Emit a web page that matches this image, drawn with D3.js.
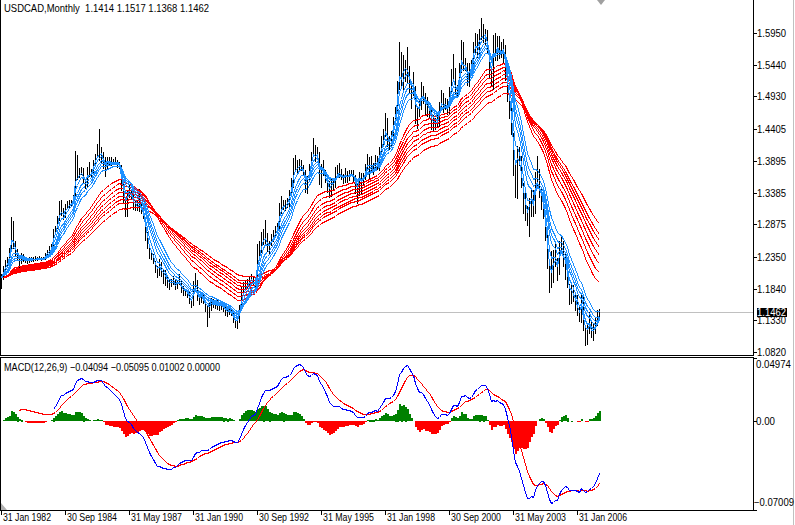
<!DOCTYPE html>
<html>
<head>
<meta charset="utf-8">
<script src="https://cdn.jsdelivr.net/npm/d3@7"></script>
<style>
    html, body { margin: 0; padding: 0; background: #fff; }
    svg { display: block; }
    text { font-family: "Liberation Sans", Arial, sans-serif; font-size: 10px; fill: #000; white-space: pre; }
</style>
</head>
<body>
<svg id="chart" width="795" height="525"></svg>
<script>
    // monthly USDCAD, Jan 1982 .. Dec 2006 (one row per year)
    var closes = [
        1.2020, 1.2175, 1.2270, 1.2285, 1.2470, 1.2880, 1.2580, 1.2400, 1.2320, 1.2290, 1.2380, 1.2330,
        1.2290, 1.2290, 1.2310, 1.2310, 1.2320, 1.2320, 1.2330, 1.2330, 1.2320, 1.2330, 1.2400, 1.2450,
        1.2490, 1.2520, 1.2790, 1.2830, 1.2960, 1.3190, 1.3130, 1.2990, 1.3160, 1.3170, 1.3220, 1.3230,
        1.3330, 1.3880, 1.3660, 1.3720, 1.3730, 1.3600, 1.3510, 1.3750, 1.3680, 1.3740, 1.3890, 1.3970,
        1.4060, 1.4000, 1.4040, 1.3850, 1.3780, 1.3900, 1.3880, 1.3880, 1.3880, 1.3880, 1.3840, 1.3800,
        1.3480, 1.3280, 1.3050, 1.3380, 1.3420, 1.3330, 1.3150, 1.3180, 1.3130, 1.3210, 1.3080, 1.2990,
        1.2680, 1.2530, 1.2340, 1.2360, 1.2280, 1.2150, 1.2080, 1.2250, 1.2060, 1.2090, 1.2010, 1.1930,
        1.1890, 1.1950, 1.1950, 1.1860, 1.1950, 1.1960, 1.1820, 1.1800, 1.1780, 1.1760, 1.1630, 1.1590,
        1.1870, 1.1950, 1.1690, 1.1640, 1.1740, 1.1630, 1.1530, 1.1560, 1.1550, 1.1650, 1.1590, 1.1600,
        1.1560, 1.1560, 1.1570, 1.1520, 1.1480, 1.1450, 1.1490, 1.1440, 1.1320, 1.1280, 1.1330, 1.1560,
        1.1820, 1.1870, 1.1920, 1.1930, 1.2000, 1.2040, 1.1910, 1.1940, 1.2450, 1.2480, 1.2680, 1.2720,
        1.2680, 1.2490, 1.2560, 1.2660, 1.2700, 1.2820, 1.2840, 1.3190, 1.3230, 1.3220, 1.3200, 1.3250,
        1.3420, 1.3520, 1.3880, 1.3850, 1.3800, 1.3850, 1.3820, 1.3720, 1.3430, 1.3600, 1.3800, 1.4020,
        1.4140, 1.3960, 1.4020, 1.3550, 1.3740, 1.3700, 1.3550, 1.3490, 1.3350, 1.3560, 1.3560, 1.3650,
        1.3780, 1.3720, 1.3630, 1.3620, 1.3680, 1.3640, 1.3730, 1.3690, 1.3640, 1.3430, 1.3430, 1.3700,
        1.3560, 1.3660, 1.3790, 1.3950, 1.3820, 1.3820, 1.3830, 1.3920, 1.3820, 1.4100, 1.4210, 1.4300,
        1.4510, 1.4220, 1.4180, 1.4330, 1.4580, 1.4720, 1.5170, 1.5650, 1.5170, 1.5460, 1.5430, 1.5330,
        1.5120, 1.4990, 1.5090, 1.4550, 1.4690, 1.4740, 1.5090, 1.4950, 1.4700, 1.4760, 1.4710, 1.4430,
        1.4480, 1.4490, 1.4510, 1.4830, 1.4980, 1.4770, 1.4830, 1.4710, 1.5030, 1.5230, 1.5360, 1.4990,
        1.5020, 1.5430, 1.5760, 1.5360, 1.5450, 1.5170, 1.5330, 1.5480, 1.5780, 1.5880, 1.5730, 1.5940,
        1.5950, 1.5920, 1.5950, 1.5660, 1.5290, 1.5180, 1.5850, 1.5600, 1.5860, 1.5610, 1.5660, 1.5720,
        1.5260, 1.4870, 1.4700, 1.4330, 1.3700, 1.3510, 1.4040, 1.3860, 1.3500, 1.3190, 1.3010, 1.2960,
        1.3270, 1.3370, 1.3090, 1.3710, 1.3630, 1.3360, 1.3310, 1.3030, 1.2640, 1.2230, 1.1880, 1.2020,
        1.2390, 1.2330, 1.2100, 1.2570, 1.2520, 1.2260, 1.2250, 1.1890, 1.1610, 1.1800, 1.1670, 1.1630,
        1.1440, 1.1380, 1.1670, 1.1200, 1.1050, 1.1150, 1.1320, 1.1100, 1.1160, 1.1240, 1.1420, 1.1462
    ];
    var highs = [
        1.2070, 1.2200, 1.2300, 1.2350, 1.2500, 1.2990, 1.2920, 1.2600, 1.2470, 1.2340, 1.2420, 1.2400,
        1.2340, 1.2330, 1.2340, 1.2350, 1.2340, 1.2370, 1.2350, 1.2360, 1.2340, 1.2350, 1.2420, 1.2460,
        1.2520, 1.2560, 1.2800, 1.2850, 1.3010, 1.3250, 1.3260, 1.3140, 1.3200, 1.3250, 1.3260, 1.3270,
        1.3350, 1.4050, 1.3990, 1.3780, 1.3800, 1.3780, 1.3610, 1.3790, 1.3870, 1.3760, 1.3910, 1.4010,
        1.4170, 1.4400, 1.4120, 1.4040, 1.3960, 1.3960, 1.3950, 1.3950, 1.3920, 1.3950, 1.3900, 1.3880,
        1.3830, 1.3530, 1.3320, 1.3420, 1.3500, 1.3440, 1.3350, 1.3260, 1.3250, 1.3440, 1.3240, 1.3120,
        1.2990, 1.2750, 1.2540, 1.2430, 1.2400, 1.2290, 1.2200, 1.2310, 1.2260, 1.2140, 1.2140, 1.2030,
        1.1990, 1.2000, 1.2050, 1.1980, 1.1980, 1.2070, 1.1980, 1.1880, 1.1840, 1.1810, 1.1780, 1.1640,
        1.1960, 1.2090, 1.1980, 1.1720, 1.1790, 1.1770, 1.1640, 1.1580, 1.1630, 1.1690, 1.1680, 1.1640,
        1.1650, 1.1630, 1.1640, 1.1600, 1.1560, 1.1530, 1.1530, 1.1520, 1.1460, 1.1350, 1.1380, 1.1570,
        1.1860, 1.1940, 1.1970, 1.1990, 1.2040, 1.2070, 1.2050, 1.1980, 1.2560, 1.2600, 1.2750, 1.2800,
        1.2950, 1.2730, 1.2600, 1.2710, 1.2780, 1.2840, 1.2900, 1.3220, 1.3330, 1.3270, 1.3260, 1.3290,
        1.3430, 1.3620, 1.3940, 1.3990, 1.3910, 1.3930, 1.3900, 1.3830, 1.3740, 1.3650, 1.3840, 1.4030,
        1.4265, 1.4150, 1.4120, 1.4030, 1.3850, 1.3900, 1.3740, 1.3600, 1.3570, 1.3620, 1.3620, 1.3800,
        1.3820, 1.3860, 1.3760, 1.3680, 1.3780, 1.3730, 1.3750, 1.3750, 1.3740, 1.3660, 1.3520, 1.3720,
        1.3700, 1.3700, 1.3840, 1.4000, 1.3960, 1.3970, 1.3860, 1.3990, 1.3980, 1.4120, 1.4300, 1.4400,
        1.4660, 1.4580, 1.4290, 1.4370, 1.4600, 1.4760, 1.5180, 1.5800, 1.5650, 1.5600, 1.5510, 1.5730,
        1.5420, 1.5120, 1.5330, 1.5100, 1.4780, 1.4850, 1.5160, 1.5100, 1.4980, 1.4920, 1.4760, 1.4750,
        1.4630, 1.4590, 1.4660, 1.4840, 1.5040, 1.4990, 1.4910, 1.4890, 1.5080, 1.5370, 1.5620, 1.5390,
        1.5120, 1.5470, 1.5840, 1.5800, 1.5540, 1.5470, 1.5460, 1.5510, 1.5800, 1.5950, 1.5930, 1.6020,
        1.6190, 1.6090, 1.6020, 1.6000, 1.5680, 1.5400, 1.5910, 1.5950, 1.5900, 1.5900, 1.5810, 1.5850,
        1.5760, 1.5300, 1.4930, 1.4750, 1.4340, 1.3860, 1.4140, 1.4120, 1.3970, 1.3540, 1.3390, 1.3170,
        1.3300, 1.3460, 1.3420, 1.3710, 1.3970, 1.3770, 1.3450, 1.3300, 1.3020, 1.2730, 1.2260, 1.2450,
        1.2460, 1.2600, 1.2330, 1.2610, 1.2700, 1.2600, 1.2390, 1.2300, 1.1910, 1.1890, 1.1900, 1.1730,
        1.1730, 1.1580, 1.1730, 1.1720, 1.1220, 1.1280, 1.1460, 1.1340, 1.1280, 1.1390, 1.1500, 1.1517
    ];
    var lows = [
        1.1850, 1.2000, 1.2130, 1.2200, 1.2250, 1.2450, 1.2500, 1.2370, 1.2300, 1.2180, 1.2250, 1.2290,
        1.2260, 1.2250, 1.2270, 1.2280, 1.2290, 1.2300, 1.2300, 1.2310, 1.2300, 1.2310, 1.2320, 1.2390,
        1.2420, 1.2440, 1.2510, 1.2750, 1.2820, 1.2950, 1.3030, 1.2960, 1.2990, 1.3130, 1.3140, 1.3170,
        1.3210, 1.3320, 1.3610, 1.3630, 1.3680, 1.3560, 1.3460, 1.3490, 1.3650, 1.3640, 1.3700, 1.3850,
        1.3950, 1.3900, 1.3880, 1.3780, 1.3650, 1.3760, 1.3850, 1.3820, 1.3860, 1.3840, 1.3790, 1.3780,
        1.3430, 1.3230, 1.3010, 1.3000, 1.3310, 1.3290, 1.3120, 1.3110, 1.3100, 1.3080, 1.3050, 1.2980,
        1.2620, 1.2490, 1.2330, 1.2310, 1.2250, 1.2100, 1.2020, 1.2060, 1.2040, 1.1930, 1.1900, 1.1870,
        1.1830, 1.1880, 1.1910, 1.1830, 1.1850, 1.1920, 1.1790, 1.1730, 1.1740, 1.1700, 1.1610, 1.1550,
        1.1580, 1.1830, 1.1660, 1.1590, 1.1630, 1.1600, 1.1480, 1.1240, 1.1390, 1.1500, 1.1540, 1.1530,
        1.1510, 1.1490, 1.1510, 1.1480, 1.1420, 1.1400, 1.1430, 1.1410, 1.1300, 1.1230, 1.1200, 1.1300,
        1.1530, 1.1770, 1.1840, 1.1870, 1.1910, 1.1980, 1.1890, 1.1860, 1.1910, 1.2300, 1.2430, 1.2560,
        1.2570, 1.2450, 1.2390, 1.2540, 1.2600, 1.2680, 1.2750, 1.2800, 1.3060, 1.3120, 1.3100, 1.3150,
        1.3170, 1.3390, 1.3480, 1.3760, 1.3710, 1.3760, 1.3740, 1.3680, 1.3390, 1.3380, 1.3570, 1.3780,
        1.4000, 1.3890, 1.3940, 1.3520, 1.3480, 1.3660, 1.3550, 1.3400, 1.3320, 1.3330, 1.3440, 1.3480,
        1.3640, 1.3640, 1.3600, 1.3530, 1.3560, 1.3560, 1.3580, 1.3660, 1.3570, 1.3380, 1.3220, 1.3340,
        1.3380, 1.3500, 1.3600, 1.3780, 1.3620, 1.3710, 1.3680, 1.3790, 1.3770, 1.3750, 1.4020, 1.4140,
        1.4290, 1.4140, 1.4080, 1.4130, 1.4270, 1.4530, 1.4680, 1.5050, 1.5100, 1.5010, 1.5180, 1.5170,
        1.4980, 1.4750, 1.4950, 1.4510, 1.4420, 1.4610, 1.4720, 1.4830, 1.4640, 1.4610, 1.4600, 1.4410,
        1.4370, 1.4400, 1.4450, 1.4460, 1.4770, 1.4680, 1.4720, 1.4640, 1.4670, 1.4980, 1.5200, 1.4970,
        1.4950, 1.4990, 1.5330, 1.5350, 1.5350, 1.5120, 1.5100, 1.5300, 1.5380, 1.5610, 1.5560, 1.5630,
        1.5860, 1.5800, 1.5750, 1.5630, 1.5240, 1.5110, 1.5050, 1.5510, 1.5510, 1.5550, 1.5560, 1.5470,
        1.5190, 1.4860, 1.4580, 1.4320, 1.3660, 1.3310, 1.3300, 1.3830, 1.3470, 1.3050, 1.2950, 1.2860,
        1.2680, 1.3000, 1.3000, 1.3050, 1.3480, 1.3320, 1.3120, 1.2970, 1.2620, 1.2170, 1.1780, 1.1870,
        1.1940, 1.2200, 1.1980, 1.2080, 1.2440, 1.2200, 1.2000, 1.1860, 1.1590, 1.1610, 1.1640, 1.1490,
        1.1420, 1.1320, 1.1310, 1.1180, 1.0940, 1.0950, 1.1120, 1.1060, 1.1020, 1.1120, 1.1250, 1.1368
    ];
    var lastBar = [1.1414, 1.1517, 1.1368, 1.1462];   // O H L C of the running bar

    var dateTicks = ["31 Jan 1982", "30 Sep 1984", "31 May 1987", "31 Jan 1990", "30 Sep 1992",
                     "31 May 1995", "31 Jan 1998", "30 Sep 2000", "31 May 2003", "31 Jan 2006"];
    var dateTickStep = 32;   // bars between date labels
    var priceTicks = [1.5950, 1.5440, 1.4930, 1.4405, 1.3895, 1.3385, 1.2875, 1.2350, 1.1840, 1.1330, 1.0820];
    var macdTicks = [0.04974, 0.00, -0.07009];
    var macdLabel = [-0.04094, -0.05095, 0.01002, 0.00000];

    var shortPeriods = [3, 5, 8, 10, 12, 15];
    var longPeriods = [30, 35, 40, 45, 50, 55, 60, 70];

    var svg = d3.select("#chart");
    var W = 795, H = 525;
    var plotRight = 753;

    var x = d3.scaleLinear().domain([0, closes.length - 1]).range([1, 1 + 2 * (closes.length - 1)]);
    var y = d3.scaleLinear().domain([1.0820, 1.5950]).range([352, 33]);
    var ym = d3.scaleLinear().domain([-0.07009, 0.04974]).range([510, 358]);

    function ema(src, n) {
        var k = 2 / (n + 1), out = [];
        src.forEach(function (v, i) {
            out.push(i === 0 ? v : v * k + out[i - 1] * (1 - k));
        });
        return out;
    }

    // squeeze a text to a narrower, Tahoma-like width
    function narrow(sel, f) {
        sel.each(function () {
            var w = this.getComputedTextLength();
            d3.select(this).attr("textLength", Math.round(w * f)).attr("lengthAdjust", "spacingAndGlyphs");
        });
    }

    svg.append("rect").attr("width", W).attr("height", H).attr("fill", "#fff");

    var main = svg.append("g").attr("shape-rendering", "crispEdges");

    // current price line
    main.append("line")
        .attr("x1", 1).attr("x2", plotRight)
        .attr("y1", Math.round(y(lastBar[3])) + 0.5).attr("y2", Math.round(y(lastBar[3])) + 0.5)
        .attr("stroke", "#c0c0c0");

    // bars
    main.selectAll("line.bar")
        .data(closes)
        .enter()
        .append("line")
        .attr("class", "bar")
        .attr("x1", function (d, i) { return x(i) + 0.5; })
        .attr("x2", function (d, i) { return x(i) + 0.5; })
        .attr("y1", function (d, i) { return Math.round(y(highs[i])); })
        .attr("y2", function (d, i) { return Math.round(y(lows[i])) + 1; })
        .attr("stroke", "#000");

    var maLine = d3.line()
        .x(function (d, i) { return x(i) + 0.5; })
        .y(function (d) { return Math.round(y(d)) + 0.5; });

    longPeriods.forEach(function (p) {
        main.append("path").attr("d", maLine(ema(closes, p)))
            .attr("fill", "none").attr("stroke", "#ff0000").attr("stroke-width", 1);
    });
    shortPeriods.forEach(function (p) {
        main.append("path").attr("d", maLine(ema(closes, p)))
            .attr("fill", "none").attr("stroke", "#1e90ff").attr("stroke-width", 1);
    });

    // MACD
    var fast = ema(closes, 12), slow = ema(closes, 26);
    var macd = fast.map(function (v, i) { return v - slow[i]; });
    var signal = ema(macd, 9);
    var hist = macd.map(function (v, i) { return v - signal[i]; });

    var sub = svg.append("g").attr("shape-rendering", "crispEdges");
    sub.selectAll("rect.hist")
        .data(hist)
        .enter()
        .append("rect")
        .attr("x", function (d, i) { return x(i) - 0.5; })
        .attr("width", 2)
        .attr("y", function (d) { return Math.round(Math.min(ym(d), ym(0))); })
        .attr("height", function (d) { return Math.round(Math.abs(ym(d) - ym(0))); })
        .attr("fill", function (d) { return d >= 0 ? "#008000" : "#ff0000"; });

    var subLine = d3.line()
        .x(function (d) { return x(d.i) + 0.5; })
        .y(function (d) { return Math.round(ym(d.v)) + 0.5; });
    var sigPts = signal.map(function (v, i) { return { i: i, v: v }; }).filter(function (d) { return d.i >= 9; });
    var macdPts = macd.map(function (v, i) { return { i: i, v: v }; }).filter(function (d) { return d.i >= 26; });
    sub.append("path").attr("d", subLine(sigPts)).attr("fill", "none").attr("stroke", "#ff0000");
    sub.append("path").attr("d", subLine(macdPts)).attr("fill", "none").attr("stroke", "#0000ff");

    // frames
    var frame = svg.append("g").attr("shape-rendering", "crispEdges").attr("fill", "none").attr("stroke", "#000");
    frame.append("path").attr("d", "M0.5,0V355.5H" + (plotRight + 0.5) + "V0");
    frame.append("path").attr("d", "M0.5,357.5H" + (plotRight + 0.5) + "V510.5H0.5Z");
    svg.append("line").attr("x1", 793.5).attr("x2", 793.5).attr("y1", 0).attr("y2", H)
        .attr("stroke", "#c0c0c0").attr("shape-rendering", "crispEdges");

    // price axis
    var pAxis = svg.append("g").attr("shape-rendering", "crispEdges");
    var f4 = d3.format(".4f"), f5 = d3.format(".5f");
    priceTicks.forEach(function (t) {
        var yy = Math.round(y(t));
        pAxis.append("line").attr("x1", plotRight + 1).attr("x2", plotRight + 4)
            .attr("y1", yy + 0.5).attr("y2", yy + 0.5).attr("stroke", "#000");
        pAxis.append("text").attr("x", 757).attr("y", yy + 4).text(f4(t));
    });
    var yl = Math.round(y(lastBar[3]));
    pAxis.append("rect").attr("x", 757).attr("y", yl - 4).attr("width", 30).attr("height", 9).attr("fill", "#000");
    pAxis.append("text").attr("x", 757).attr("y", yl + 4).style("fill", "#fff").text(f4(lastBar[3]));

    // macd axis
    macdTicks.forEach(function (t, k) {
        var yy = Math.round(ym(t));
        var ty = k === 0 ? yy + 10 : (k === macdTicks.length - 1 ? yy - 4 : yy + 4);
        pAxis.append("line").attr("x1", plotRight + 1).attr("x2", plotRight + 4)
            .attr("y1", yy + 0.5).attr("y2", yy + 0.5).attr("stroke", "#000");
        pAxis.append("text").attr("x", k === macdTicks.length - 1 ? 754 : 756).attr("y", ty)
            .text(t === 0 ? "0.00" : f5(t));
    });
    narrow(pAxis.selectAll("text"), 0.96);

    // date axis
    var dAxis = svg.append("g").attr("shape-rendering", "crispEdges");
    dateTicks.forEach(function (lab, k) {
        var xx = Math.round(x(k * dateTickStep));
        dAxis.append("line").attr("x1", xx + 0.5).attr("x2", xx + 0.5).attr("y1", 511).attr("y2", 515).attr("stroke", "#000");
        dAxis.append("text").attr("x", xx + 2).attr("y", 521).text(lab);
    });
    narrow(dAxis.selectAll("text"), 0.88);

    // little markers
    svg.append("path").attr("d", "M597,0H605L601,5Z").attr("fill", "#a0a0a0");
    svg.append("path").attr("d", "M1,503V510H7Z").attr("fill", "#b0b0b0");

    // titles
    var t1 = svg.append("text").attr("x", 4).attr("y", 12).style("font-size", "11px")
        .text("USDCAD,Monthly  " + lastBar.map(f4).join(" "));
    var t2 = svg.append("text").attr("x", 4).attr("y", 371).style("font-size", "11px")
        .text("MACD(12,26,9) " + macdLabel.map(f5).join(" "));
    t1.attr("textLength", 205).attr("lengthAdjust", "spacingAndGlyphs");
    t2.attr("textLength", 216).attr("lengthAdjust", "spacingAndGlyphs");
</script>
</body>
</html>
